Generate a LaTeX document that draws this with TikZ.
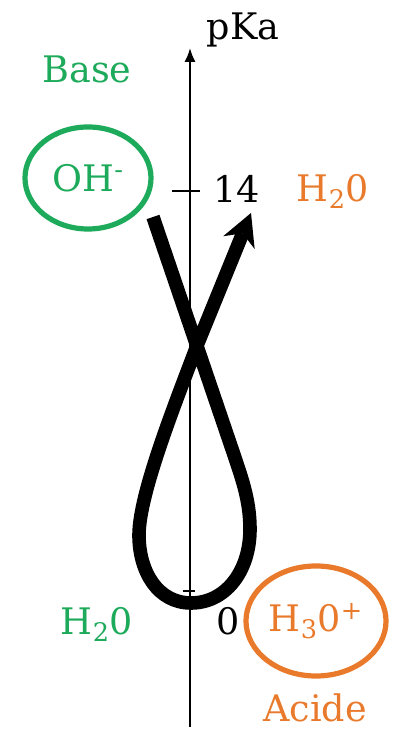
\documentclass[tikz,border=0pt]{standalone}
\usepackage{fontspec}
\setmainfont{DejaVu Serif}
\usepackage{tikz}
\usetikzlibrary{arrows.meta,shapes.geometric}
\definecolor{acidorange}{HTML}{E97A2B}
\definecolor{basegreen}{HTML}{1DAA5A}
\tikzset{
  lbl/.style={
    font=\fontsize{26}{30}\selectfont,
    inner sep=0pt,
  },
  axis/.style={line width=0.05cm},
  species/.style={
    draw,
    ellipse,
    inner sep=0pt,
    line width=0.13cm,
  },
  swap/.style={line width=0.34cm},
}

\begin{document}
\begin{tikzpicture}[x=0.025cm, y=0.025cm]
  \useasboundingbox (0,0) rectangle (393,734);

  % pKa axis
  \coordinate (axbot) at (190,7);
  \coordinate (axtop) at (190,686);
  \draw[axis, -{Latex[length=0.35cm, width=0.28cm]}] (axbot) -- (axtop);
  \node[lbl, anchor=base] (pka) at (243,694) {pKa};
  \coordinate (t14a) at (172,543);
  \coordinate (t14b) at (200,543);
  \draw[axis] (t14a) -- (t14b);
  \coordinate (t0a) at (183,143);
  \coordinate (t0b) at (195,143);
  \draw[axis] (t0a) -- (t0b);
  \node[lbl, anchor=base] (v14) at (237,531) {14};
  \node[lbl, anchor=base] (v0) at (228,99) {0};

  % couple at pKa = 14
  \node[lbl, anchor=base, text=basegreen] (base) at (87,651) {Base};
  \node[species, draw=basegreen, minimum width=3.15cm, minimum height=2.55cm,
        lbl, text=basegreen] (oh) at (88,556) {OH\textsuperscript{-}};
  \node[lbl, anchor=base, text=acidorange] (wtop) at (333,532) {H\textsubscript{2}0};

  % couple at pKa = 0
  \node[lbl, anchor=base, text=basegreen] (wbot) at (97,99) {H\textsubscript{2}0};
  \node[species, draw=acidorange, minimum width=3.5cm, minimum height=2.75cm,
        lbl, text=acidorange] (h3o) at (316,113) {H\textsubscript{3}0\textsuperscript{+}};
  \node[lbl, anchor=base, text=acidorange] (acide) at (315,12) {Acide};

  % exchange loop
  \coordinate (ls) at (153,517);
  \coordinate (le) at (251,521);
  \draw[swap, -{Stealth[length=0.8cm, width=0.85cm, inset=0.25cm, line width=0pt]}]
    (ls) -- (232,285)
    .. controls (241,258) and (250,235) .. (250,205)
    .. controls (250,162) and (225,131) .. (191,131)
    .. controls (158,131) and (139,162) .. (139,199)
    .. controls (139,240) and (175,330) .. (198,391)
    -- (le);
\end{tikzpicture}
\end{document}
